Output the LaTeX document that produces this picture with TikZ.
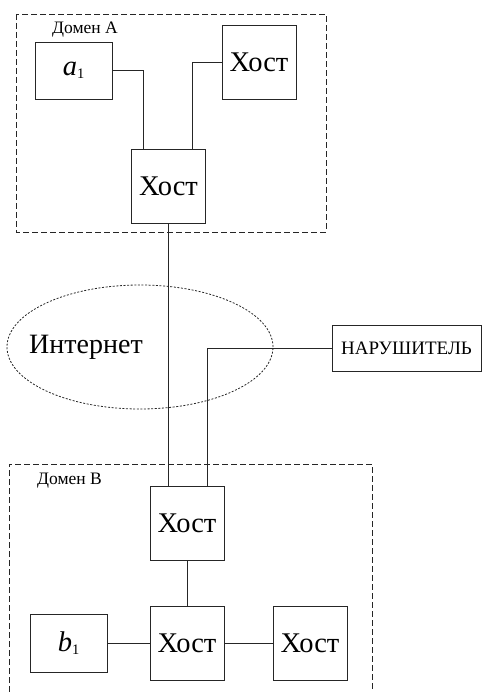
\documentclass[tikz,border=0pt]{standalone}
\usepackage{fontspec}
\setmainfont{Liberation Serif}
\usetikzlibrary{shapes.geometric}
\begin{document}
\begin{tikzpicture}[x=1pt,y=-1pt,
  box/.style={draw=black!85,line width=0.9pt,rectangle,inner sep=0pt,font=\fontsize{28.5}{31}\selectfont},
  host/.style={box,minimum width=74pt,minimum height=74pt},
  small/.style={box,minimum width=77pt,minimum height=57pt},
  domainbox/.style={draw=black!85,line width=0.9pt,dash pattern=on 6pt off 3pt},
  wire/.style={draw=black!85,line width=0.8pt},
  lbl/.style={font=\fontsize{17.5}{20}\selectfont,inner sep=0pt,anchor=west}]
\useasboundingbox (0,0) rectangle (483,692);
% Domain A
\draw[domainbox] (16,14) rectangle (326,232);
\node[lbl] (domA) at (52,30) {Домен A};
\node[small] (a1) at (73.5,70.5) {\itshape a\raisebox{-0.25ex}{\fontsize{14.5}{16}\selectfont\upshape 1}};
\node[host] (hostTR) at (259,62) {Хост};
\node[host] (hostA) at (168.5,186) {Хост};
% Internet
\node[ellipse,draw=black!85,line width=0.8pt,dash pattern=on 2pt off 1.6pt,minimum width=266pt,minimum height=124pt,inner sep=0pt] (net) at (140,347) {};
\node[font=\fontsize{28}{31}\selectfont,inner sep=0pt] (netl) at (86,347) {Интернет};
% Intruder
\node[box,minimum width=149pt,minimum height=46pt,font=\fontsize{19}{22}\selectfont] (intr) at (406.5,348) {НАРУШИТЕЛЬ};
% Domain B
\draw[domainbox] (9,692) -- (9,464) -- (372,464) -- (372,692);
\node[lbl] (domB) at (37,481) {Домен B};
\node[host] (hostB1) at (187,523) {Хост};
\node[host] (hostB2) at (187,643) {Хост};
\node[host] (hostB3) at (310,643) {Хост};
\node[small,minimum height=58pt] (b1) at (68.5,643) {\itshape b\raisebox{-0.25ex}{\fontsize{14.5}{16}\selectfont\upshape 1}};
% wires
\draw[wire] (a1.east) -| ([xshift=-25.5pt]hostA.north);
\draw[wire] (hostTR.west) -| ([xshift=23.5pt]hostA.north);
\draw[wire] (hostA.south) -- (hostA.south |- hostB1.north);
\draw[wire] (intr.west) -| ([xshift=20pt]hostB1.north);
\draw[wire] (hostB1.south) -- (hostB2.north);
\draw[wire] (b1.east) -- (hostB2.west);
\draw[wire] (hostB2.east) -- (hostB3.west);
\end{tikzpicture}
\end{document}
